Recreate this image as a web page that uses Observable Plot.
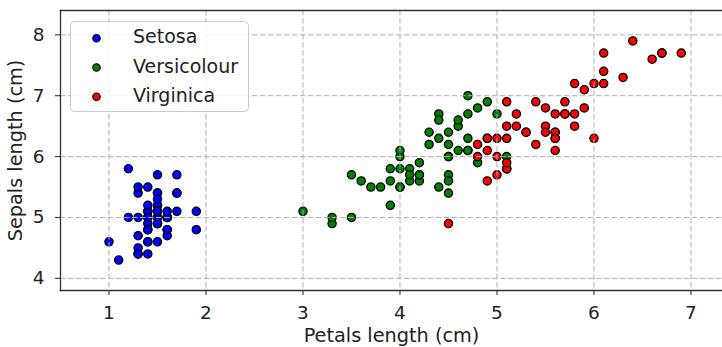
<!DOCTYPE html>
<html>
<head>
<meta charset="utf-8">
<script src="https://cdn.jsdelivr.net/npm/d3@7"></script>
<script src="https://cdn.jsdelivr.net/npm/@observablehq/plot@0.6"></script>
<style>
  html, body { margin: 0; padding: 0; background: #fff; }
  #chart { position: relative; width: 722px; height: 347px; font-family: "DejaVu Sans", sans-serif; }
  #chart svg { display: block; }
  #legend { position: absolute; left: 0; top: 0; pointer-events: none; }
</style>
</head>
<body>
<div id="chart"></div>
<script>
// Iris data: petal length (x) and sepal length (y), in cm
const species = ["Setosa", "Versicolour", "Virginica"];
const speciesColors = ["#0000ff", "#008000", "#ff0000"];

const setosaPetal = [1.4,1.4,1.3,1.5,1.4,1.7,1.4,1.5,1.4,1.5,1.5,1.6,1.4,1.1,1.2,1.5,1.3,1.4,1.7,1.5,1.7,1.5,1.0,1.7,1.9,1.6,1.6,1.5,1.4,1.6,1.6,1.5,1.5,1.4,1.5,1.2,1.3,1.5,1.3,1.5,1.3,1.3,1.3,1.6,1.9,1.4,1.6,1.4,1.5,1.4];
const setosaSepal = [5.1,4.9,4.7,4.6,5.0,5.4,4.6,5.0,4.4,4.9,5.4,4.8,4.8,4.3,5.8,5.7,5.4,5.1,5.7,5.1,5.4,5.1,4.6,5.1,4.8,5.0,5.0,5.2,5.2,4.7,4.8,5.4,5.2,5.5,4.9,5.0,5.5,4.9,4.4,5.1,5.0,4.5,4.4,5.0,5.1,4.8,5.1,4.6,5.3,5.0];

const versicolourPetal = [4.7,4.5,4.9,4.0,4.6,4.5,4.7,3.3,4.6,3.9,3.5,4.2,4.0,4.7,3.6,4.4,4.5,4.1,4.5,3.9,4.8,4.0,4.9,4.7,4.3,4.4,4.8,5.0,4.5,3.5,3.8,3.7,3.9,5.1,4.5,4.5,4.7,4.4,4.1,4.0,4.4,4.6,4.0,3.3,4.2,4.2,4.2,4.3,3.0,4.1];
const versicolourSepal = [7.0,6.4,6.9,5.5,6.5,5.7,6.3,4.9,6.6,5.2,5.0,5.9,6.0,6.1,5.6,6.7,5.6,5.8,6.2,5.6,5.9,6.1,6.3,6.1,6.4,6.6,6.8,6.7,6.0,5.7,5.5,5.5,5.8,6.0,5.4,6.0,6.7,6.3,5.6,5.5,5.5,6.1,5.8,5.0,5.6,5.7,5.7,6.2,5.1,5.7];

const virginicaPetal = [6.0,5.1,5.9,5.6,5.8,6.6,4.5,6.3,5.8,6.1,5.1,5.3,5.5,5.0,5.1,5.3,5.5,6.7,6.9,5.0,5.7,4.9,6.7,4.9,5.7,6.0,4.8,4.9,5.6,5.8,6.1,6.4,5.6,5.1,5.6,6.1,5.6,5.5,4.8,5.4,5.6,5.1,5.1,5.9,5.7,5.2,5.0,5.2,5.4,5.1];
const virginicaSepal = [6.3,5.8,7.1,6.3,6.5,7.6,4.9,7.3,6.7,7.2,6.5,6.4,6.8,5.7,5.8,6.4,6.5,7.7,7.7,6.0,6.9,5.6,7.7,6.3,6.7,7.2,6.2,6.1,6.4,7.2,7.4,7.9,6.4,6.3,6.1,7.7,6.3,6.4,6.0,6.9,6.7,6.9,5.8,6.8,6.7,6.7,6.3,6.5,6.2,5.9];

const xTicks = [1, 2, 3, 4, 5, 6, 7];
const yTicks = [4, 5, 6, 7, 8];
const xLabel = "Petals length (cm)";
const yLabel = "Sepals length (cm)";

// Build table
const petals = [setosaPetal, versicolourPetal, virginicaPetal];
const sepals = [setosaSepal, versicolourSepal, virginicaSepal];
const data = [];
species.forEach((s, i) => {
  petals[i].forEach((p, j) => data.push({species: s, petal: p, sepal: sepals[i][j]}));
});

const gridStyle = {stroke: "#b0b0b0", strokeOpacity: 1, strokeWidth: 1, strokeDasharray: "5.5,2.5"};

const plot = Plot.plot({
  width: 722,
  height: 347,
  marginLeft: 60,
  marginRight: 0,
  marginTop: 10,
  marginBottom: 57,
  style: {fontFamily: "DejaVu Sans, sans-serif", color: "#000", background: "#fff"},
  x: {domain: [0.5, 7.325]},
  y: {domain: [3.8, 8.4]},
  color: {domain: species, range: speciesColors},
  marks: [
    Plot.dot(data, {x: "petal", y: "sepal", fill: "species", r: 4.1, stroke: "#000", strokeWidth: 1.3, fillOpacity: 1}),
    Plot.gridX(xTicks, gridStyle),
    Plot.gridY(yTicks, gridStyle),
    Plot.axisX({ticks: xTicks, tickFormat: d => String(d), tickSize: 5, tickPadding: 10, fontSize: 18.5, label: null, stroke: "#222", fill: "#222"}),
    Plot.axisY({ticks: yTicks, tickFormat: d => String(d), tickSize: 5, tickPadding: 11, fontSize: 18.5, label: null, stroke: "#222", fill: "#222"}),
    Plot.frame({anchor: "top", stroke: "#333", strokeWidth: 1.3}),
    Plot.frame({anchor: "left", stroke: "#333", strokeWidth: 1.3}),
    Plot.frame({anchor: "bottom", stroke: "#333", strokeWidth: 1.3}),
    Plot.text([xLabel], {frameAnchor: "bottom", lineAnchor: "middle", textAnchor: "middle", dy: 45, fontSize: 19.3, fill: "#222"}),
    Plot.text([yLabel], {frameAnchor: "left", lineAnchor: "middle", textAnchor: "middle", dx: -45, rotate: -90, fontSize: 19.3, fill: "#222"})
  ]
});

const chart = document.getElementById("chart");
chart.appendChild(plot);

// Legend inside the plot (upper left), as in the reference
const ns = "http://www.w3.org/2000/svg";
const leg = document.createElementNS(ns, "svg");
leg.setAttribute("id", "legend");
leg.setAttribute("width", 722);
leg.setAttribute("height", 347);
const box = document.createElementNS(ns, "rect");
Object.entries({x: 70.5, y: 21.5, width: 178, height: 90, rx: 4, fill: "#fff", "fill-opacity": 0.8, stroke: "#cccccc", "stroke-width": 1})
  .forEach(([k, v]) => box.setAttribute(k, v));
leg.appendChild(box);
species.forEach((s, i) => {
  const cy = 38.3 + i * 29.2;
  const c = document.createElementNS(ns, "circle");
  Object.entries({cx: 96.5, cy, r: 3.7, fill: speciesColors[i], stroke: "#000", "stroke-width": 1.2})
    .forEach(([k, v]) => c.setAttribute(k, v));
  leg.appendChild(c);
  const t = document.createElementNS(ns, "text");
  Object.entries({x: 133, y: cy + 5.1, "font-size": 19, "font-family": "DejaVu Sans, sans-serif", fill: "#222"})
    .forEach(([k, v]) => t.setAttribute(k, v));
  t.textContent = s;
  leg.appendChild(t);
});
chart.appendChild(leg);
</script>
</body>
</html>
